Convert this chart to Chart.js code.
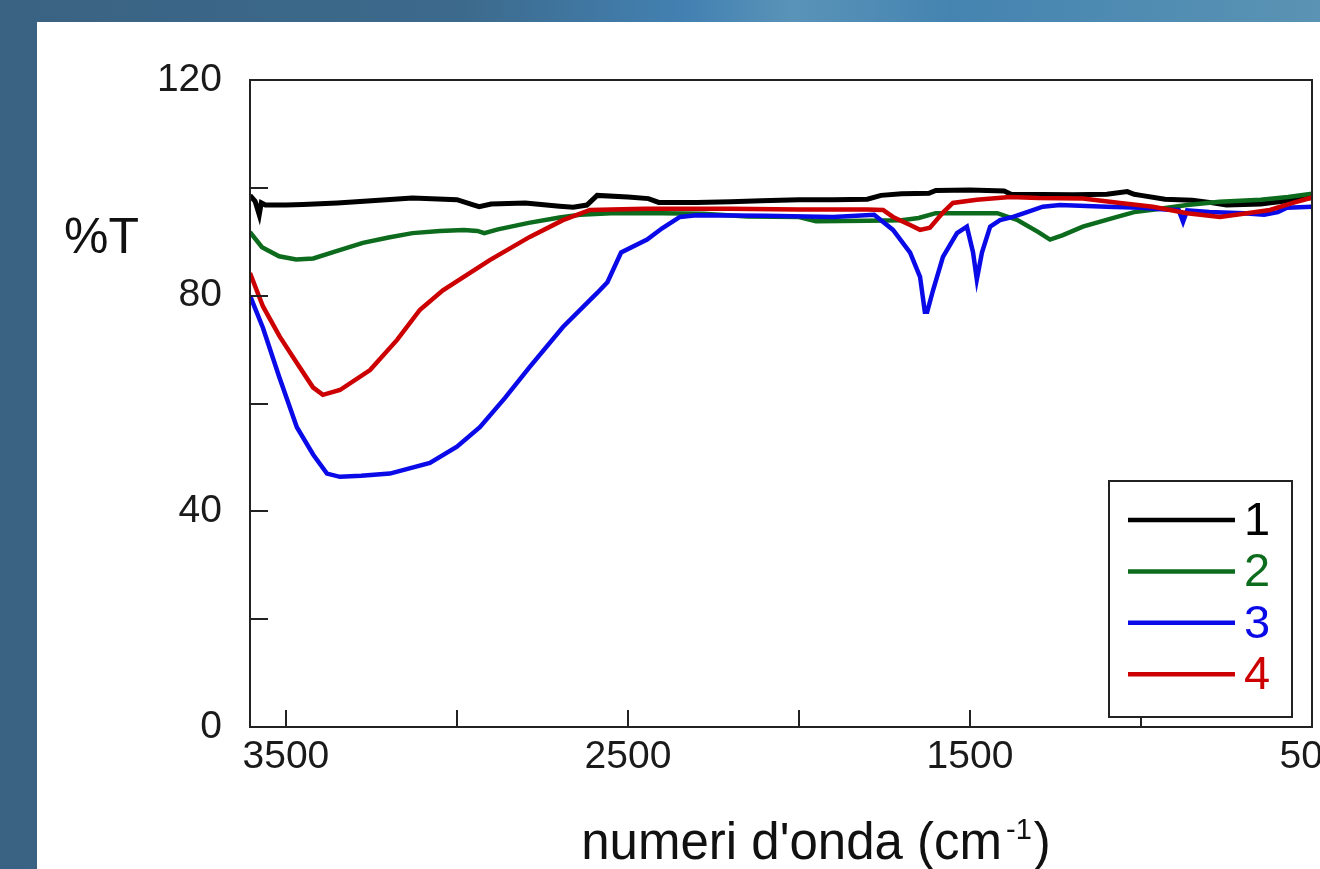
<!DOCTYPE html>
<html lang="it">
<head>
<meta charset="UTF-8">
<title>Spettri IR</title>
<script src="https://cdn.jsdelivr.net/npm/chart.js"></script>
<style>
  body {
    margin: 0; width: 1320px; height: 869px; overflow: hidden;
    background: linear-gradient(90deg, #3a6282 0%, #3c6a8c 35%, #4381b2 52%, #5a93b8 60%, #4584b1 72%, #5a93b3 100%);
  }
  #panel { position: absolute; left: 37px; top: 22px; width: 1283px; height: 847px; background: #fff; }
</style>
</head>
<body>
<div id="panel"><canvas id="myChart" width="1283" height="847"></canvas></div>

<script>
// spettro 1 (nero)
const wn1 = [3605, 3590, 3578, 3572, 3560, 3500, 3450, 3350, 3250, 3130, 3000, 2950, 2935, 2900, 2800, 2700, 2660, 2620, 2590, 2500, 2440, 2410, 2300, 2200, 2110, 2000, 1900, 1800, 1760, 1700, 1620, 1600, 1500, 1400, 1380, 1200, 1100, 1040, 1020, 1000, 930, 850, 800, 750, 650, 550, 500];
const t1 = [98.6, 97.5, 95.0, 97.2, 96.8, 96.8, 96.9, 97.2, 97.6, 98.1, 97.8, 96.8, 96.5, 97.0, 97.2, 96.6, 96.4, 96.8, 98.6, 98.3, 98.0, 97.3, 97.3, 97.4, 97.6, 97.8, 97.8, 97.9, 98.6, 98.9, 99.0, 99.5, 99.6, 99.4, 98.8, 98.7, 98.8, 99.3, 98.8, 98.6, 97.9, 97.7, 97.3, 96.8, 97.0, 97.8, 98.2];

// spettro 2 (verde)
const wn2 = [3605, 3570, 3520, 3470, 3420, 3350, 3275, 3200, 3130, 3050, 2980, 2940, 2920, 2880, 2790, 2700, 2640, 2550, 2400, 2280, 2150, 2000, 1950, 1800, 1700, 1650, 1600, 1420, 1360, 1300, 1266, 1230, 1170, 1070, 1020, 960, 865, 770, 650, 570, 500];
const t2 = [91.8, 89.0, 87.3, 86.7, 86.9, 88.3, 89.8, 90.8, 91.6, 92.0, 92.2, 92.0, 91.6, 92.3, 93.5, 94.5, 95.0, 95.3, 95.3, 95.2, 94.7, 94.6, 93.8, 93.9, 94.0, 94.4, 95.3, 95.3, 94.0, 91.8, 90.4, 91.2, 92.8, 94.6, 95.5, 96.0, 96.8, 97.4, 97.8, 98.3, 98.9];

// spettro 3 (blu)
const wn3 = [3605, 3567, 3520, 3468, 3420, 3380, 3342, 3280, 3196, 3079, 3000, 2933, 2860, 2787, 2690, 2590, 2560, 2520, 2444, 2400, 2348, 2300, 2100, 1900, 1780, 1725, 1675, 1646, 1632, 1625, 1608, 1579, 1538, 1509, 1491, 1480, 1465, 1441, 1412, 1374, 1333, 1287, 1237, 1100, 1000, 930, 890, 877, 865, 800, 700, 640, 600, 573, 500];
const t3 = [80.0, 74.0, 65.0, 55.6, 50.5, 47.0, 46.4, 46.6, 47.0, 49.0, 52.0, 55.6, 61.0, 66.8, 74.2, 80.5, 82.5, 88.0, 90.4, 92.5, 94.6, 94.9, 94.8, 94.6, 95.0, 92.2, 88.0, 83.5, 77.0, 77.0, 81.0, 87.2, 91.6, 92.8, 88.0, 83.0, 88.0, 92.8, 94.0, 94.6, 95.5, 96.5, 96.8, 96.5, 96.3, 96.0, 95.9, 93.7, 95.8, 95.5, 95.3, 95.0, 95.5, 96.3, 96.5];

// spettro 4 (rosso)
const wn4 = [3605, 3567, 3518, 3468, 3421, 3392, 3342, 3254, 3175, 3108, 3041, 2904, 2787, 2690, 2611, 2450, 2200, 2000, 1800, 1754, 1725, 1675, 1646, 1617, 1579, 1550, 1480, 1383, 1300, 1170, 1061, 965, 865, 769, 690, 623, 556, 500];
const t4 = [84.2, 78.0, 72.4, 67.5, 63.0, 61.6, 62.5, 66.2, 71.8, 77.4, 81.0, 86.6, 90.9, 94.0, 95.9, 96.1, 96.1, 96.0, 96.0, 95.9, 94.6, 93.1, 92.2, 92.6, 95.4, 97.2, 97.8, 98.3, 98.1, 98.0, 97.2, 96.5, 95.3, 94.6, 95.3, 95.9, 97.2, 98.2];

const seriesNames = ['1', '2', '3', '4'];
const seriesColors = ['#000000', '#0c6b1c', '#0a0ae8', '#cc0000'];
const xTicks = [3500, 3000, 2500, 2000, 1500, 1000, 500];
const xLabels = [3500, 2500, 1500, 500];
const yTicks = [0, 20, 40, 60, 80, 100, 120];
const yLabels = [0, 40, 80, 120];

const FONT = '"Liberation Sans", Arial, sans-serif';
const allX = [wn1, wn2, wn3, wn4];
const allY = [t1, t2, t3, t4];

const datasets = allX.map((xs, k) => ({
    label: seriesNames[k],
    data: xs.map((x, i) => ({ x: x, y: allY[k][i] })),
    borderColor: seriesColors[k],
    borderWidth: k === 0 ? 5 : 4.5,
    pointRadius: 0,
    tension: 0,
    order: 4 - k
}));

// cornice, tacche interne, etichette asse, legenda
const frame = {
    id: 'frame',
    afterDraw(chart) {
        const { ctx, chartArea: a, scales: { x, y } } = chart;
        ctx.save();
        ctx.strokeStyle = '#222';
        ctx.lineWidth = 2;
        ctx.strokeRect(a.left, a.top, a.right - a.left, a.bottom - a.top);
        ctx.beginPath();
        xTicks.forEach(v => {
            const px = Math.round(x.getPixelForValue(v));
            ctx.moveTo(px, a.bottom);
            ctx.lineTo(px, a.bottom - 17);
        });
        yTicks.forEach(v => {
            const py = Math.round(y.getPixelForValue(v));
            ctx.moveTo(a.left, py);
            ctx.lineTo(a.left + 18, py);
        });
        ctx.stroke();

        // %T
        ctx.fillStyle = '#111';
        ctx.textAlign = 'left';
        ctx.textBaseline = 'alphabetic';
        ctx.font = '50px ' + FONT;
        ctx.fillText('%T', 27, 231);

        // titolo asse x con apice
        const main = "numeri d'onda (cm";
        const big = '51px ' + FONT, small = '29px ' + FONT;
        ctx.font = big;
        const w1 = ctx.measureText(main).width;
        const w3 = ctx.measureText(')').width;
        ctx.font = small;
        const w2 = ctx.measureText('-1').width;
        const total = w1 + 4 + w2 + 2 + w3;
        let tx = 779 - total / 2;
        ctx.font = big;
        ctx.fillText(main, tx, 837);
        tx += w1 + 4;
        ctx.font = small;
        ctx.fillText('-1', tx, 817);
        tx += w2 + 2;
        ctx.font = big;
        ctx.fillText(')', tx, 837);

        // legenda
        const lx = 1072, ly = 459, lw = 183, lh = 236;
        ctx.fillStyle = '#fff';
        ctx.fillRect(lx, ly, lw, lh);
        ctx.strokeStyle = '#222';
        ctx.lineWidth = 2;
        ctx.strokeRect(lx, ly, lw, lh);
        ctx.font = '47px ' + FONT;
        ctx.textBaseline = 'middle';
        chart.data.datasets.forEach((ds, i) => {
            const yy = 498 + i * 51.4;
            ctx.strokeStyle = ds.borderColor;
            ctx.lineWidth = 4.5;
            ctx.beginPath();
            ctx.moveTo(lx + 19, yy);
            ctx.lineTo(lx + 126, yy);
            ctx.stroke();
            ctx.fillStyle = ds.borderColor;
            ctx.fillText(ds.label, lx + 135, yy + 2);
        });
        ctx.restore();
    }
};

new Chart(document.getElementById('myChart'), {
    type: 'line',
    data: { datasets: datasets },
    plugins: [frame],
    options: {
        responsive: false,
        animation: false,
        layout: { padding: { left: 0, top: 58, right: 8, bottom: 0 } },
        plugins: { legend: { display: false }, tooltip: { enabled: false } },
        scales: {
            x: {
                type: 'linear',
                reverse: true,
                min: 500,
                max: 3605,
                afterBuildTicks: s => { s.ticks = xTicks.map(v => ({ value: v })); },
                afterFit: s => { s.height = 142; s.paddingLeft = 0; s.paddingRight = 0; },
                grid: { display: false, drawTicks: false },
                border: { display: false },
                ticks: {
                    autoSkip: false,
                    maxRotation: 0,
                    padding: 7,
                    color: '#1a1a1a',
                    font: { family: FONT, size: 39 },
                    callback: v => xLabels.includes(v) ? String(v) : ''
                }
            },
            y: {
                min: 0,
                max: 120,
                afterBuildTicks: s => { s.ticks = yTicks.map(v => ({ value: v })); },
                afterFit: s => { s.width = 213; s.paddingTop = 0; s.paddingBottom = 0; },
                grid: { display: false, drawTicks: false },
                border: { display: false },
                ticks: {
                    padding: 28,
                    color: '#1a1a1a',
                    font: { family: FONT, size: 39 },
                    callback: v => yLabels.includes(v) ? String(v) : ''
                }
            }
        }
    }
});
</script>
</body>
</html>
